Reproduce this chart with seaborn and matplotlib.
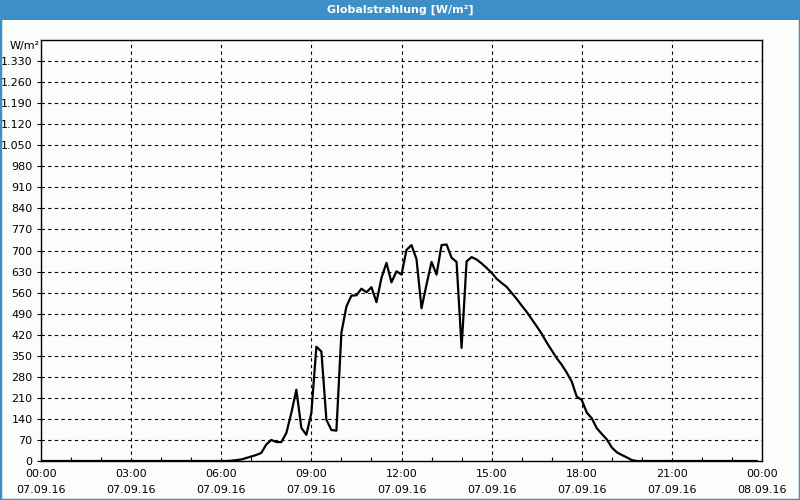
import matplotlib
matplotlib.use("Agg")
import matplotlib.pyplot as plt
import matplotlib.patches as mpatches
import numpy as np
import pandas as pd
import seaborn as sns

# ---- data (10-minute values, 07.09.16, 00:00 .. 23:50) ----
night_morning = [0] * 38          # 00:00 .. 06:10
day_values = [1, 3, 5, 10, 15, 20, 27, 55, 70, 63, 63, 93, 160, 237, 110, 87,
              160, 380, 364, 137, 103, 101, 427, 514, 550, 551, 573, 561, 578,
              528, 609, 659, 594, 631, 620, 702, 718, 671, 508, 587, 662, 620,
              718, 720, 676, 662, 376, 664, 678, 670, 657, 642, 626, 606, 592,
              579, 559, 539, 517, 496, 472, 448, 423, 394, 368, 342, 320, 294,
              264, 214, 203, 161, 142, 109, 90, 72, 45, 29, 20, 12, 3]   # 06:20 .. 19:40
evening = [0] * (144 - 38 - 81)    # 19:50 .. 23:50
radiation = night_morning + day_values + evening

x_tick_hours = [0, 3, 6, 9, 12, 15, 18, 21, 24]
x_tick_labels = ["00:00\n07.09.16", "03:00\n07.09.16", "06:00\n07.09.16",
                 "09:00\n07.09.16", "12:00\n07.09.16", "15:00\n07.09.16",
                 "18:00\n07.09.16", "21:00\n07.09.16", "00:00\n08.09.16"]
y_ticks = list(range(0, 1331, 70))
y_tick_labels = [f"{v:,}".replace(",", ".") for v in y_ticks]

df = pd.DataFrame({"hour": np.arange(len(radiation)) / 6.0, "value": radiation})

sns.set_theme(style="white")
plt.rcParams["font.family"] = ["DejaVu Sans"]

bg = "#fbfdfb"
blue = "#3d8fc6"

fig = plt.figure(figsize=(8, 5), dpi=100, facecolor=bg)
ax = fig.add_axes([41 / 800, 1 - 461 / 500, 721 / 800, 421 / 500])
ax.set_facecolor(bg)

sns.lineplot(data=df, x="hour", y="value", ax=ax, color="black", linewidth=1.6)

ax.set_xlim(0, 24)
ax.set_ylim(0, 1400)
ax.set_xticks(x_tick_hours)
ax.set_xticklabels(x_tick_labels, fontsize=8, color="black", linespacing=1.7)
ax.set_xticks(np.arange(0, 25, 1), minor=True)
ax.set_yticks(y_ticks)
ax.set_yticklabels(y_tick_labels, fontsize=8, color="black")
ax.set_xlabel("")
ax.set_ylabel("")

ax.grid(True, which="major", color="black", linestyle=(0, (3, 3)), linewidth=0.8)
ax.tick_params(axis="x", which="major", length=0, pad=6)
ax.tick_params(axis="x", which="minor", direction="in", length=3, color="black", width=0.8, bottom=True)
ax.tick_params(axis="y", which="major", length=3, color="black", width=0.8, left=True, pad=3)
for s in ax.spines.values():
    s.set_visible(True)
    s.set_color("black")
    s.set_linewidth(1.0)

# title bar
fig.patches.append(mpatches.Rectangle((0, 1 - 20 / 500), 1, 20 / 500, transform=fig.transFigure,
                                      facecolor=blue, edgecolor="none", zorder=0))
fig.text(0.5, 1 - 10 / 500, "Globalstrahlung [W/m²]", color="white", fontsize=8,
         fontweight="bold", ha="center", va="center")
# frame
fig.patches.append(mpatches.Rectangle((0, 0), 1, 1, transform=fig.transFigure,
                                      facecolor="none", edgecolor=blue, linewidth=2.5, zorder=5))

fig.text(10 / 800, 1 - 46 / 500, "W/m²", fontsize=8, color="black", ha="left", va="center")

fig.savefig("out.png", dpi=100, facecolor=bg)
